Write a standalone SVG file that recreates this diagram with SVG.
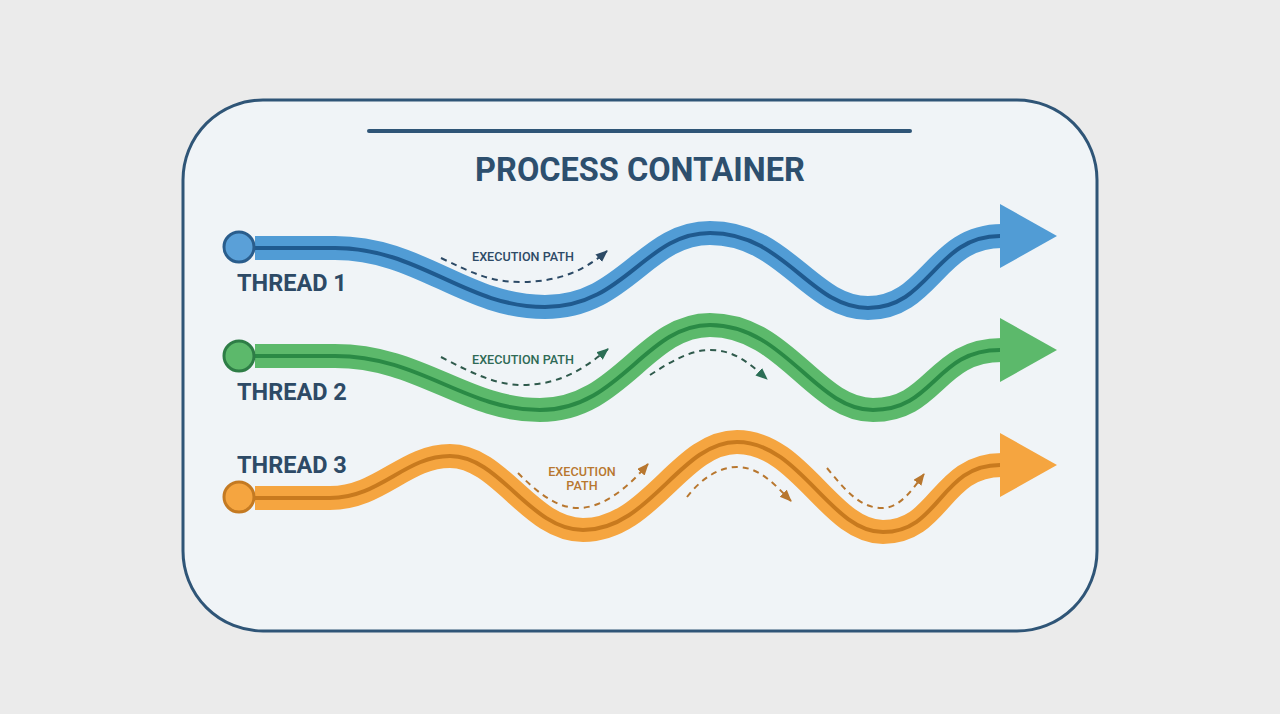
<svg xmlns="http://www.w3.org/2000/svg" width="1280" height="714" viewBox="0 0 1280 714">
<style>
.title{font-family:Roboto,"Liberation Sans",sans-serif;font-weight:700;fill:#2d4f6e}
.tl{font-family:Roboto,"Liberation Sans",sans-serif;font-weight:700;font-size:23.5px;fill:#2d4a66}
.ep{font-family:Roboto,"Liberation Sans",sans-serif;font-weight:500;font-size:12.6px}
.band{fill:none;stroke-width:24;stroke-linecap:butt;stroke-linejoin:round}
.core{fill:none;stroke-width:4;stroke-linecap:butt}
.dash{fill:none;stroke-width:2;stroke-dasharray:6 5}
</style>
<defs>
<marker id="mb" markerUnits="userSpaceOnUse" markerWidth="13" markerHeight="11" refX="11" refY="5" orient="auto"><path d="M0,0 L12,5 L0,10 z" fill="#2c4a66"/></marker>
<marker id="mg" markerUnits="userSpaceOnUse" markerWidth="13" markerHeight="11" refX="11" refY="5" orient="auto"><path d="M0,0 L12,5 L0,10 z" fill="#2b6e55"/></marker>
<marker id="mo" markerUnits="userSpaceOnUse" markerWidth="13" markerHeight="11" refX="11" refY="5" orient="auto"><path d="M0,0 L12,5 L0,10 z" fill="#b8772f"/></marker>
</defs>
<rect width="1280" height="714" fill="#ebebeb"/>
<g id="container">
<rect x="183" y="100" width="914" height="531" rx="80" ry="80" fill="#f0f4f7" stroke="#2f5577" stroke-width="3"/>
<line x1="369" y1="131" x2="910" y2="131" stroke="#2f5577" stroke-width="4" stroke-linecap="round"/>
<text class="title" x="640" y="181" font-size="32.5" text-anchor="middle">PROCESS CONTAINER</text>
</g>
<g id="thread1">
<path class="band" stroke="#519cd5" d="M 255 248 L 335 248 C 420 248 465 307 545 307 C 625 307 645 233 710 233 C 785 233 810 308 868 308 C 930 308 935 236 1002 236"/>
<path class="core" stroke="#1f5a8f" d="M 255 248 L 335 248 C 420 248 465 307 545 307 C 625 307 645 233 710 233 C 785 233 810 308 868 308 C 930 308 935 236 1000 236"/>
<polygon points="1000,204 1057,236 1000,268" fill="#519cd5"/>
<circle cx="239" cy="247" r="15" fill="#5aa0d8" stroke="#2a5d8c" stroke-width="3"/>
<text class="tl" x="237" y="291">THREAD 1</text>
</g>
<g id="thread2">
<path class="band" stroke="#5cb96b" d="M 255 356 L 335 356 C 420 356 465 410 540 410 C 620 410 645 325 710 325 C 785 325 815 410 873 410 C 935 410 935 350 1002 350"/>
<path class="core" stroke="#2a8a45" d="M 255 356 L 335 356 C 420 356 465 410 540 410 C 620 410 645 325 710 325 C 785 325 815 410 873 410 C 935 410 935 350 1000 350"/>
<polygon points="1000,318 1057,350 1000,382" fill="#5cb96b"/>
<circle cx="239" cy="356" r="15" fill="#5cb96b" stroke="#2e7d46" stroke-width="3"/>
<text class="tl" x="237" y="400">THREAD 2</text>
</g>
<g id="thread3">
<path class="band" stroke="#f5a540" d="M 255 498 L 330 498 C 380 498 405 456 450 456 C 500 456 530 530 583 530 C 650 530 680 442 737 442 C 800 442 830 532 883 532 C 940 532 940 465 1002 465"/>
<path class="core" stroke="#c87a1e" d="M 255 498 L 330 498 C 380 498 405 456 450 456 C 500 456 530 530 583 530 C 650 530 680 442 737 442 C 800 442 830 532 883 532 C 940 532 940 465 1000 465"/>
<polygon points="1000,433 1057,465 1000,497" fill="#f5a540"/>
<circle cx="239" cy="497" r="15" fill="#f5a540" stroke="#c47a22" stroke-width="3"/>
<text class="tl" x="237" y="473">THREAD 3</text>
</g>
<g id="connectors">
<path class="dash" stroke="#2c4a66" marker-end="url(#mb)" d="M 441 258 C 470 272 490 282 520 282 C 560 282 585 270 607 251"/>
<text class="ep" x="523" y="261" text-anchor="middle" fill="#2d4a66">EXECUTION PATH</text>
<path class="dash" stroke="#2f5a4c" marker-end="url(#mg)" d="M 441 357 C 470 372 495 385 522 385 C 560 385 585 368 608 349"/>
<text class="ep" x="523" y="364" text-anchor="middle" fill="#2e6a55">EXECUTION PATH</text>
<path class="dash" stroke="#2f5a4c" marker-end="url(#mg)" d="M 650 375 C 670 362 690 350 710 350 C 735 350 750 364 767 379"/>
<path class="dash" stroke="#b8772f" marker-end="url(#mo)" d="M 518 473 C 535 490 555 508 578 508 C 605 508 630 485 648 464"/>
<text class="ep" x="582" y="476" text-anchor="middle" fill="#b8772f">EXECUTION</text>
<text class="ep" x="582" y="490" text-anchor="middle" fill="#b8772f">PATH</text>
<path class="dash" stroke="#b8772f" marker-end="url(#mo)" d="M 687 497 C 700 480 718 467 737 467 C 760 467 775 485 791 501"/>
<path class="dash" stroke="#b8772f" marker-end="url(#mo)" d="M 827 468 C 845 490 860 508 882 508 C 900 508 912 490 924 474"/>
</g>
</svg>
